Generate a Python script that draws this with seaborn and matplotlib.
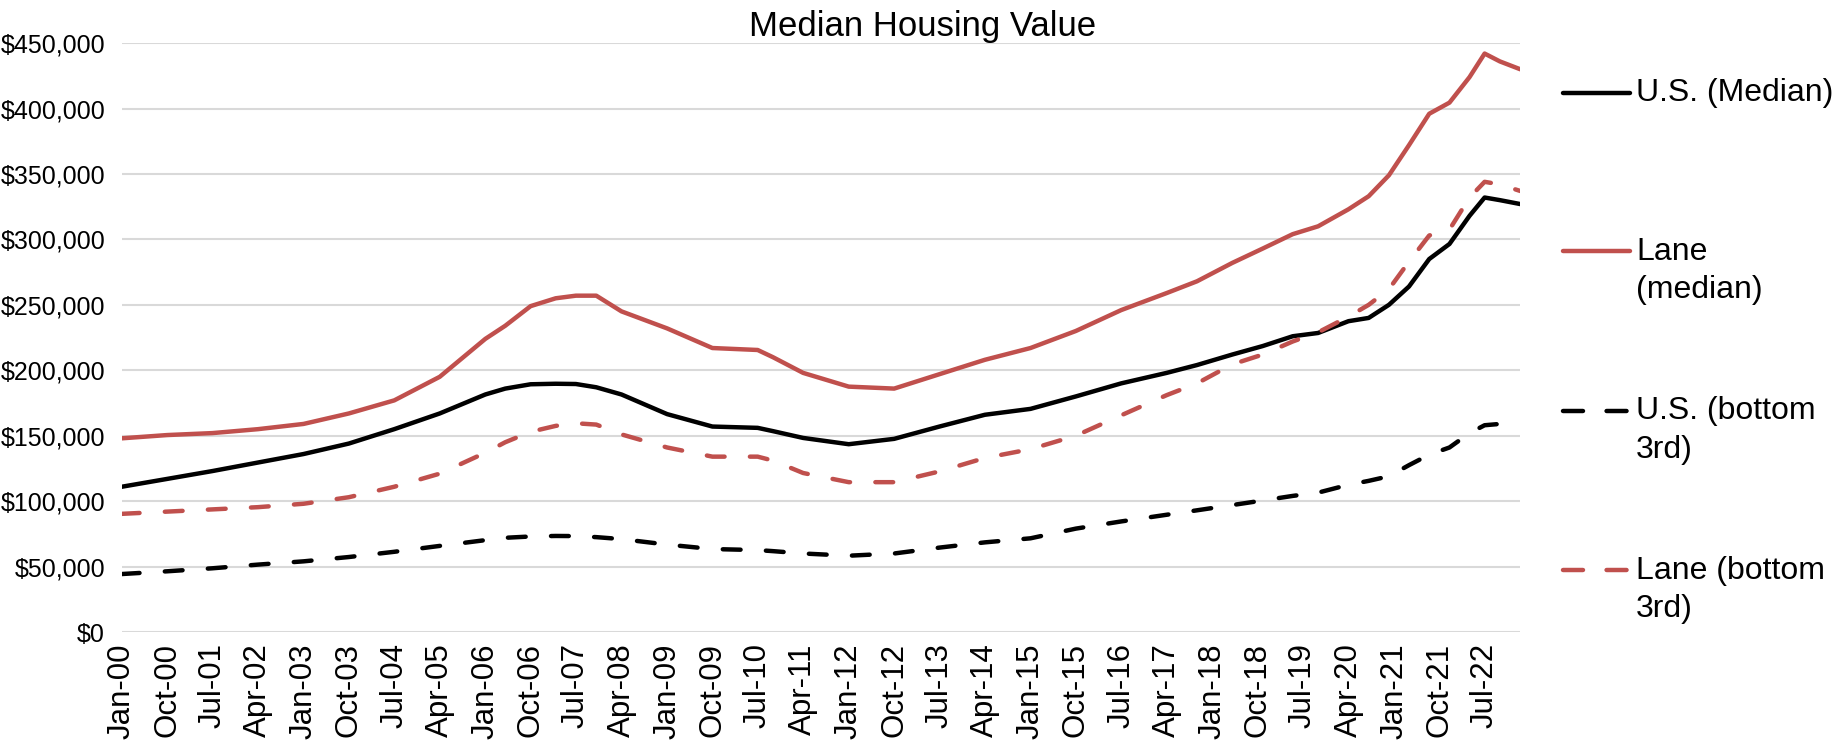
import pandas as pd
import matplotlib
matplotlib.use("Agg")
import matplotlib.pyplot as plt
import matplotlib.dates as mdates
from matplotlib.ticker import FuncFormatter
from matplotlib.lines import Line2D
import seaborn as sns

# values, in thousands of dollars
dates = ["2000-01", "2000-10", "2001-07", "2002-04", "2003-01", "2003-10", "2004-07",
         "2005-04", "2006-01", "2006-05", "2006-10", "2007-03", "2007-07", "2007-11",
         "2008-04", "2009-01", "2009-10", "2010-07", "2010-10", "2011-04", "2012-01",
         "2012-10", "2013-07", "2014-04", "2015-01", "2015-10", "2016-07", "2017-04",
         "2017-10", "2018-05", "2018-11", "2019-05", "2019-10", "2020-04", "2020-08",
         "2020-12", "2021-04", "2021-08", "2021-12", "2022-04", "2022-07", "2022-10",
         "2023-02"]
us_median = [111, 117, 123, 129.5, 136, 144, 155, 167, 181.5, 186, 189.3, 189.7, 189.5, 187,
             181.5, 166.5, 157, 156, 153.5, 148.3, 143.5, 147.6, 157, 166, 170.5, 180, 190,
             198, 204, 212, 218.5, 226, 228.5, 237.5, 240, 250, 264, 285, 296.5, 318, 332,
             330, 327]
lane_median = [148, 150.5, 152, 155, 159, 167, 177, 195, 224, 234, 249, 255, 257, 257,
               245, 232, 217, 215.5, 210, 198, 187.5, 186, 197, 208, 217, 230, 246,
               259, 268, 282, 293, 304, 310, 323, 333, 349, 372, 396, 404.5, 424, 442,
               436, 430]
us_bottom = [44.3, 46.4, 48.7, 51.5, 54, 57.3, 61.3, 65.8, 70.2, 72, 73, 73.4, 73.3, 72.5,
             71, 66.8, 63.4, 62.6, 61.8, 60, 58.3, 60, 64.5, 68.5, 71.6, 79, 84.5,
             89.6, 93, 97, 100.5, 104, 106.5, 112.5, 115.5, 119, 127.5, 135.5, 141, 152,
             158, 159, 162.5]
lane_bottom = [90.3, 92, 93.7, 95.4, 98, 103, 111, 121, 137, 145, 153, 157.5, 159.5, 158.5,
               151, 141, 134, 134, 131, 121.5, 114.5, 114.5, 122.7, 133, 139.7, 150, 165.6,
               181, 190, 204.5, 212, 222, 229, 241, 250, 262, 283, 303, 307.5, 332, 344,
               342, 337]

series = ["U.S. (Median)", "Lane (median)", "U.S. (bottom 3rd)", "Lane (bottom 3rd)"]
labels = ["U.S. (Median)", "Lane\n(median)", "U.S. (bottom\n3rd)", "Lane (bottom\n3rd)"]
RED = "#C0504D"
colors = ["black", RED, "black", RED]

frames = []
for name, vals in zip(series, [us_median, lane_median, us_bottom, lane_bottom]):
    frames.append(pd.DataFrame({"date": pd.to_datetime(dates), "value": [v * 1000 for v in vals],
                                "series": name}))
df = pd.concat(frames, ignore_index=True)

sns.set_style("white")
plt.rcParams["font.family"] = ["Liberation Sans", "DejaVu Sans"]
plt.rcParams["text.color"] = "black"
plt.rcParams["xtick.color"] = "black"
plt.rcParams["ytick.color"] = "black"

fig, ax = plt.subplots(figsize=(18.45, 7.56), dpi=100)
fig.subplots_adjust(left=0.066, right=0.824, top=0.943, bottom=0.164)

sns.lineplot(data=df, x="date", y="value", hue="series", style="series",
             palette=dict(zip(series, colors)),
             dashes={series[0]: "", series[1]: "", series[2]: (4, 5.7), series[3]: (4, 5.7)},
             linewidth=3.2, legend=False, ax=ax)
for ln in ax.lines:
    ln.set_dash_capstyle("round")
    ln.set_solid_capstyle("round")
    ln.set_solid_joinstyle("round")

ax.set_ylim(0, 450000)
ax.set_xlim(pd.Timestamp(dates[0]), pd.Timestamp(dates[-1]))
ax.set_yticks(range(0, 450001, 50000))
ax.yaxis.set_major_formatter(FuncFormatter(lambda v, p: f"${v:,.0f}"))
ax.set_xticks(pd.date_range("2000-01-01", "2022-07-01", freq="9MS"))
ax.xaxis.set_major_formatter(mdates.DateFormatter("%b-%y"))
ax.tick_params(axis="x", labelsize=22.5, rotation=90, length=0, pad=8)
ax.tick_params(axis="y", labelsize=18, length=0, pad=12)
ax.grid(axis="y", color="#D9D9D9", linewidth=1.5)
ax.grid(axis="x", visible=False)
ax.set_axisbelow(True)
sns.despine(ax=ax, left=True, bottom=True)
ax.set_xlabel("")
ax.set_ylabel("")

fig.text(0.5, 1 - 36 / 756, "Median Housing Value", ha="center", va="baseline", fontsize=25)

# legend drawn at the right, handle beside the first line of each label
W, H = 1845, 756
for lab, col, dashed, y in zip(labels, colors, [False, False, True, True], [93, 251, 411, 570]):
    ln = Line2D([1563 / W, 1630 / W], [1 - y / H, 1 - y / H], transform=fig.transFigure,
                color=col, linewidth=3.2, solid_capstyle="round", dash_capstyle="round")
    if dashed:
        ln.set_dashes((4.5, 5.3))
    fig.add_artist(ln)
    fig.text(1636 / W, 1 - (y - 14.5) / H, lab, ha="left", va="top", fontsize=23,
             linespacing=1.37)

fig.savefig("out.png", dpi=100)
